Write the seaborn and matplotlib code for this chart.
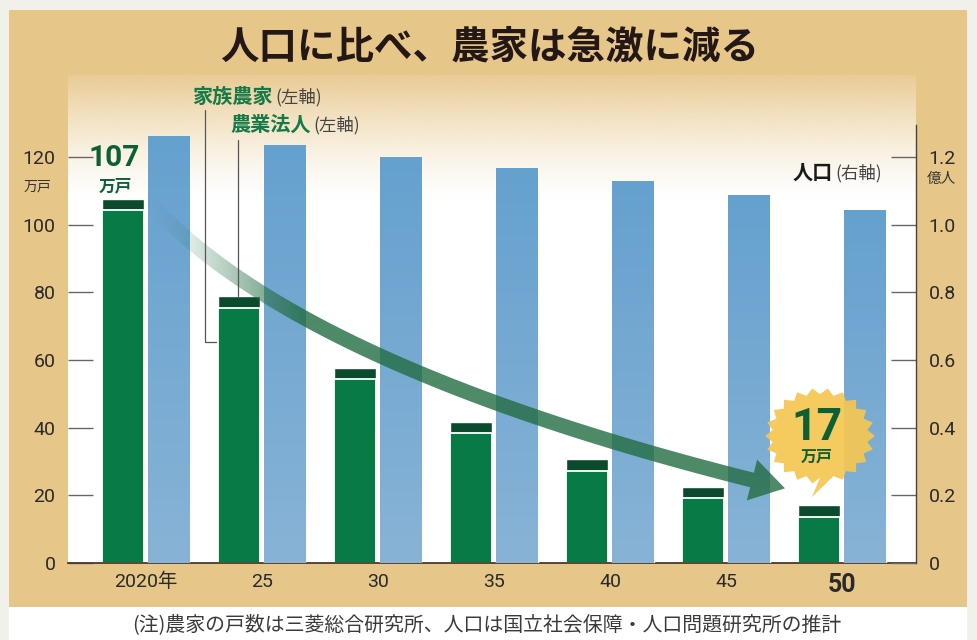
import numpy as np
import pandas as pd
import matplotlib
matplotlib.use('Agg')
import matplotlib.pyplot as plt
import seaborn as sns
from matplotlib.patches import Rectangle, Polygon
from matplotlib.colors import to_rgb

# data
years = ["2020年", "25", "30", "35", "40", "45", "50"]
family_farms = [104.3, 75.5, 54.5, 38.5, 27.2, 19.1, 13.7]   # 万戸, 家族農家
corp_farms = [3.2, 3.3, 3.2, 3.3, 3.5, 3.3, 3.4]            # 万戸, 農業法人
population = [1.260, 1.233, 1.199, 1.166, 1.128, 1.086, 1.043]  # 億人
series_order = ["農家", "人口"]

TAN = '#e7c689'
GREEN = '#087a45'
DARK = '#0c4a2e'
BLUE = '#6aa4d0'
BLUE_TOP = '#65a1cf'
BLUE_BOTTOM = '#88b3d6'
TXT_GREEN = '#0d5f36'

sns.set_style("white")
plt.rcParams['font.family'] = ['Roboto', 'Noto Sans CJK JP', 'DejaVu Sans']
JP = ['Noto Sans CJK JP', 'DejaVu Sans']

farm = pd.DataFrame({'year': years, 'series': '農家',
                     'family': family_farms, 'corp': corp_farms})
farm['total'] = farm['family'] + farm['corp']
pop = pd.DataFrame({'year': years, 'series': '人口', 'pop': population})

fig = plt.figure(figsize=(9.78, 6.4), dpi=100, facecolor='#f2f0eb')

# background frame, drawn in an overlay that uses top-left pixel coords
bg = fig.add_axes([0, 0, 1, 1], zorder=-1)
bg.set_xlim(0, 978)
bg.set_ylim(640, 0)
bg.axis('off')
bg.add_patch(Rectangle((9, 10), 958, 597, facecolor=TAN, edgecolor='none'))
bg.add_patch(Rectangle((9, 607), 958, 33, facecolor='white', edgecolor='none'))

ax = fig.add_axes([68 / 978, 77 / 640, 848 / 978, 488 / 640], zorder=1)
ax.set_facecolor('white')

# tan -> white fade at the top of the plot area
n = 256
grad = np.zeros((n, 1, 4))
grad[..., :3] = to_rgb(TAN)
t = np.linspace(0, 1, n)
grad[:, 0, 3] = 0.9 * np.clip(1 - t / 0.26, 0, 1) ** 1.4
ax.imshow(grad, extent=(0, 1, 0, 1), transform=ax.transAxes, aspect='auto',
          zorder=0, interpolation='bicubic')

common = dict(x='year', hue='series', hue_order=series_order, order=years,
              width=0.79, gap=0.1, dodge=True, saturation=1, errorbar=None,
              legend=False)
sns.barplot(data=farm, y='total', ax=ax, zorder=2,
            palette={'農家': DARK, '人口': BLUE}, **common)
sns.barplot(data=farm, y='family', ax=ax, zorder=2, edgecolor='white',
            linewidth=1.3, palette={'農家': GREEN, '人口': BLUE}, **common)

ax2 = ax.twinx()
sns.barplot(data=pop, y='pop', ax=ax2, zorder=2,
            palette={'農家': DARK, '人口': BLUE}, **common)

# soft vertical shading on the population bars
shade = np.zeros((64, 1, 3))
s = np.linspace(0, 1, 64)[:, None]
shade[:, 0, :] = (1 - s) * np.array(to_rgb(BLUE_TOP)) + s * np.array(to_rgb(BLUE_BOTTOM))
for bar in list(ax2.patches):
    x0, w, h = bar.get_x(), bar.get_width(), bar.get_height()
    ax2.imshow(shade, extent=(x0, x0 + w, 0, h), aspect='auto', zorder=2.1,
               interpolation='bilinear')

ax.set_xlim(-0.672, 6.638)
ax.set_ylim(0, 144.25)
ax2.set_ylim(0, 1.4425)
ax.set_yticks(range(0, 121, 20))
ax2.set_yticks([0, 0.2, 0.4, 0.6, 0.8, 1.0, 1.2])
ax2.set_yticklabels(['0', '0.2', '0.4', '0.6', '0.8', '1.0', '1.2'])
ax.set_xticks(range(len(years)))
ax.set_xticklabels(years)
for a in (ax, ax2):
    a.set_xlabel('')
    a.set_ylabel('')
    a.grid(False)

ax.tick_params(axis='y', direction='in', length=18, width=1, color='#666',
               labelsize=14, labelcolor='#2a2a2a', pad=9)
ax2.tick_params(axis='y', direction='in', length=18, width=1, color='#666',
                labelsize=14, labelcolor='#2a2a2a', pad=9)
ax.tick_params(axis='x', length=0, pad=7, labelsize=14, labelcolor='#2a2a2a')
last = ax.get_xticklabels()[-1]
last.set_fontweight('bold')
last.set_fontsize(18)

for sp in ('left', 'right', 'top'):
    ax.spines[sp].set_visible(False)
ax.spines['bottom'].set_color('#4b3a2a')
ax.spines['bottom'].set_linewidth(1.3)
for sp in ('left', 'top', 'bottom'):
    ax2.spines[sp].set_visible(False)
ax2.spines['right'].set_color('#444')
ax2.spines['right'].set_linewidth(1)
ax2.spines['right'].set_bounds(0, 1.295)

# overlay for annotations, in top-left pixel coords
ov = fig.add_axes([0, 0, 1, 1], zorder=3)
ov.axis('off')

# curved arrow, one outline filled with a gradient that fades in at the tail
P0, P1, P2 = np.array([150., 203.]), np.array([300., 366.]), np.array([752., 480.])
tt = np.linspace(0, 1, 120)[:, None]
curve = (1 - tt) ** 2 * P0 + 2 * (1 - tt) * tt * P1 + tt ** 2 * P2
deriv = 2 * (1 - tt) * (P1 - P0) + 2 * tt * (P2 - P1)
tang = deriv / np.linalg.norm(deriv, axis=1, keepdims=True)
norm = np.column_stack([-tang[:, 1], tang[:, 0]])
half = 7.5
u = tang[-1]
nv = norm[-1]
tip = P2 + 34 * u
outline = np.vstack([curve + half * norm,
                     [P2 + 21 * nv, tip, P2 - 21 * nv],
                     (curve - half * norm)[::-1]])
clip = Polygon(outline, closed=True, facecolor='none', edgecolor='none')
ov.add_patch(clip)
xs = np.arange(978)
fade = np.zeros((1, 978, 4))
fade[..., :3] = (0.14, 0.43, 0.26)
fade[0, :, 3] = 0.8 * np.clip((xs - 150) / 150, 0, 1) ** 1.3
img = ov.imshow(fade, extent=(0, 978, 640, 0), aspect='auto', zorder=3,
                interpolation='bilinear')
img.set_clip_path(clip)

# starburst badge
cx, cy = 820, 436
ang = np.linspace(0, 2 * np.pi, 44, endpoint=False)
rr = np.where(np.arange(44) % 2 == 0, 1.0, 0.87)
pts = np.column_stack([cx + 55 * rr * np.cos(ang), cy + 48 * rr * np.sin(ang)])
k = np.argmin(np.abs(ang - np.pi / 2) + (rr < 1) * 10)
pts[k] = [812, 497]
ov.add_patch(Polygon(pts, closed=True, facecolor='#f5c653', alpha=0.93,
                     edgecolor='none', zorder=4))
ov.text(817, 428, '17', ha='center', va='center', fontsize=32,
        fontweight='bold', color=TXT_GREEN, family=['Roboto'], zorder=5)
ov.text(817, 457, '万戸', ha='center', va='center', fontsize=11.5,
        fontweight='bold', color=TXT_GREEN, family=JP, zorder=5)

ov.text(490, 47, '人口に比べ、農家は急激に減る', ha='center', va='center',
        fontsize=27.7, fontweight='bold', family=JP, color='#231815')

ov.text(114, 158, '107', ha='center', va='center', fontsize=21.5,
        fontweight='bold', color=TXT_GREEN, family=['Roboto'], zorder=5)
ov.text(115, 186, '万戸', ha='center', va='center', fontsize=12,
        fontweight='bold', color=TXT_GREEN, family=JP, zorder=5)
ov.text(37, 187, '万戸', ha='center', va='center', fontsize=10,
        color='#333', family=JP)
ov.text(941, 179, '億人', ha='center', va='center', fontsize=10.5,
        color='#333', family=JP)

ov.text(273, 96, '家族農家', ha='right', va='center', fontsize=14.5,
        fontweight='bold', color='#147a47', family=JP)
ov.text(275, 97, '(左軸)', ha='left', va='center', fontsize=12.5,
        color='#444', family=JP)
ov.text(311, 124, '農業法人', ha='right', va='center', fontsize=14.5,
        fontweight='bold', color='#147a47', family=JP)
ov.text(313, 125, '(左軸)', ha='left', va='center', fontsize=12.5,
        color='#444', family=JP)
ov.text(833, 172, '人口', ha='right', va='center', fontsize=14.5,
        fontweight='bold', color='#1a1a1a', family=JP)
ov.text(835, 173, '(右軸)', ha='left', va='center', fontsize=12.5,
        color='#444', family=JP)

ov.plot([205, 205, 216], [110, 342, 342], color='#555', linewidth=0.9, zorder=3)
ov.plot([238, 238], [140, 296], color='#555', linewidth=0.9, zorder=3)

ov.text(487, 625, '(注)農家の戸数は三菱総合研究所、人口は国立社会保障・人口問題研究所の推計',
        ha='center', va='center', fontsize=14.3, color='#3a3a3a', family=JP)
ov.set_xlim(0, 978)
ov.set_ylim(640, 0)

fig.savefig('out.png', dpi=100, facecolor=fig.get_facecolor())
